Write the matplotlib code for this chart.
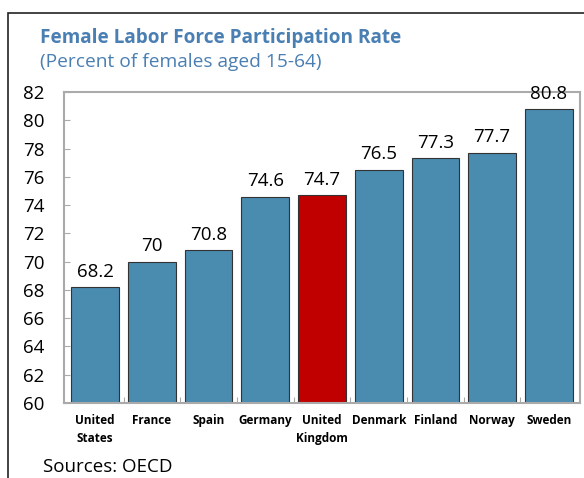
import matplotlib.pyplot as plt
from matplotlib.patches import Rectangle

plt.rcParams['font.family'] = ['Open Sans', 'DejaVu Sans']

countries = ['United\nStates', 'France', 'Spain', 'Germany', 'United\nKingdom',
             'Denmark', 'Finland', 'Norway', 'Sweden']
rates = [68.2, 70, 70.8, 74.6, 74.7, 76.5, 77.3, 77.7, 80.8]
labels = ['68.2', '70', '70.8', '74.6', '74.7', '76.5', '77.3', '77.7', '80.8']
highlight = 'United\nKingdom'

blue = '#4a8bb0'
red = '#c00000'
title_col = '#4a7fb3'

fig = plt.figure(figsize=(5.84, 4.78), dpi=100)
ax = fig.add_axes([64 / 584, 75 / 478, 516 / 584, 311 / 478])

colors = [red if c == highlight else blue for c in countries]
x = range(len(countries))
ax.bar(x, rates, width=0.84, color=colors, edgecolor='#333333', linewidth=0.8)

for i, (r, lab) in enumerate(zip(rates, labels)):
    ax.text(i, r + 0.45, lab, ha='center', va='bottom', fontsize=13.5, clip_on=False)

ax.set_ylim(60, 82)
ax.set_xlim(-0.55, len(countries) - 0.45)
ax.set_yticks(range(60, 83, 2))
ax.set_xticks([i + 0.5 for i in range(len(countries) - 1)])
ax.set_xticklabels([])
ax.tick_params(axis='y', direction='in', length=4, color='#aaaaaa', labelsize=13.5, pad=14)
ax.tick_params(axis='x', direction='in', length=4, color='#aaaaaa')
for i, c in enumerate(countries):
    ax.text(i, 59.2, c, ha='center', va='top', fontsize=8.5, fontweight='bold',
            linespacing=1.5)
for s in ax.spines.values():
    s.set_color('#aaaaaa')
    s.set_linewidth(1.5)

# outer frame of the panel
fig.patches.append(Rectangle((8 / 584, -0.1), 1.1, 1 - 13 / 478 + 0.1,
                             transform=fig.transFigure, fill=False,
                             edgecolor='#222222', linewidth=1.2))

fig.text(40 / 584, 1 - 38 / 478, 'Female Labor Force Participation Rate',
         fontsize=13.7, fontweight='bold', color=title_col, va='center')
fig.text(40 / 584, 1 - 62 / 478, '(Percent of females aged 15-64)',
         fontsize=13.8, color=title_col, va='center')
fig.text(43 / 584, 1 - 467 / 478, 'Sources: OECD', fontsize=13.5, va='center')

fig.savefig('out.png', dpi=100)
